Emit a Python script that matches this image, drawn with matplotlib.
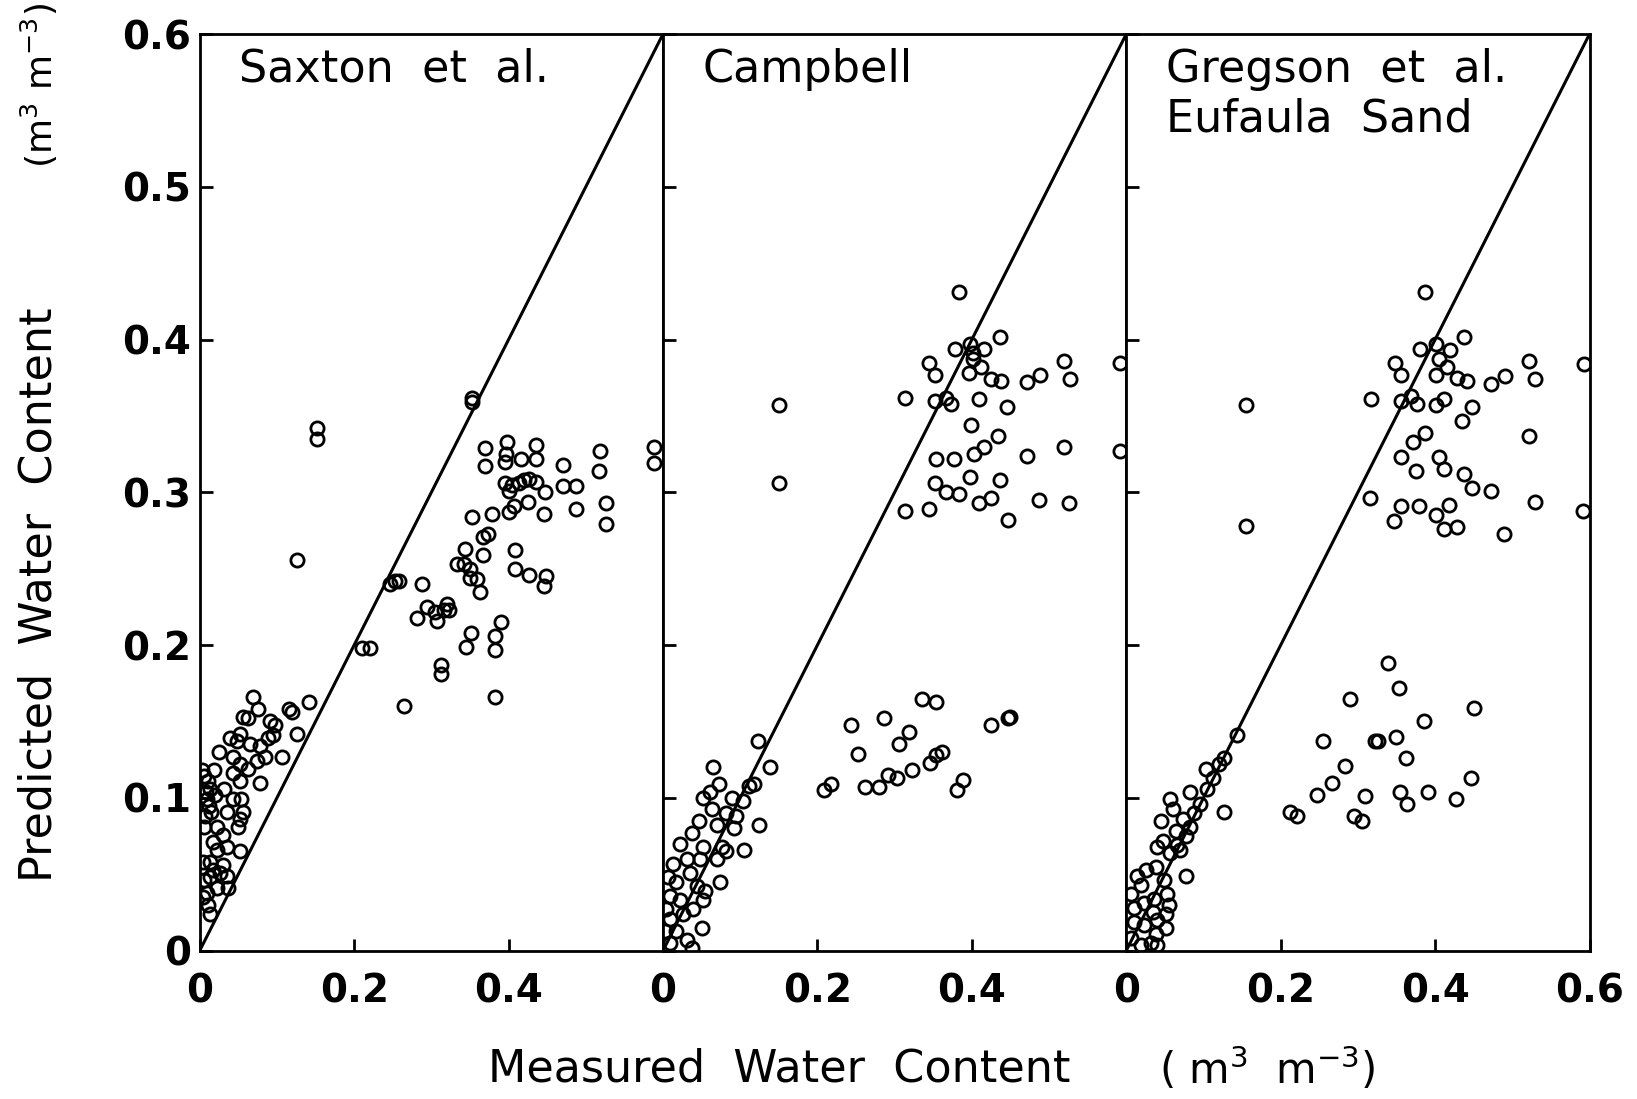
import numpy as np
import matplotlib
matplotlib.use("Agg")
import matplotlib.pyplot as plt

# Saxton et al.
sax_x = [0.353, 0.353, 0.152, 0.152, 0.126, 0.247, 0.253, 0.258, 0.210, 0.221,
         0.288, 0.281, 0.294, 0.305, 0.307, 0.316, 0.320, 0.323, 0.264, 0.312,
         0.312, 0.351, 0.345, 0.390, 0.382, 0.382, 0.382, 0.344, 0.333, 0.342,
         0.350, 0.350, 0.359, 0.363, 0.367, 0.367, 0.374, 0.353, 0.378, 0.408,
         0.408, 0.426, 0.446, 0.449, 0.400, 0.407, 0.425, 0.395, 0.400, 0.405,
         0.413, 0.420, 0.426, 0.435, 0.447, 0.446, 0.370, 0.370, 0.398, 0.397,
         0.396, 0.416, 0.436, 0.436, 0.470, 0.470, 0.487, 0.487, 0.519, 0.517,
         0.526, 0.526, 0.589, 0.589,
         0.069, 0.076, 0.056, 0.063, 0.091, 0.097, 0.095, 0.089, 0.115, 0.119,
         0.142, 0.126, 0.107, 0.025, 0.039, 0.048, 0.052, 0.065, 0.078, 0.084,
         0.074, 0.078, 0.043, 0.052, 0.063, 0.043, 0.052, 0.006, 0.011, 0.013,
         0.009, 0.015, 0.006, 0.022, 0.017, 0.043, 0.054, 0.056, 0.052, 0.050,
         0.032, 0.035, 0.030, 0.035, 0.052, 0.022, 0.013, 0.030, 0.013, 0.035,
         0.022, 0.009, 0.037, 0.011, 0.013, 0.004, 0.006, 0.004, 0.017, 0.026,
         0.003, 0.008, 0.018, 0.012, 0.020, 0.007]
sax_y = [0.362, 0.359, 0.342, 0.335, 0.256, 0.240, 0.242, 0.242, 0.198, 0.198,
         0.240, 0.218, 0.225, 0.222, 0.216, 0.223, 0.227, 0.223, 0.160, 0.187,
         0.181, 0.208, 0.199, 0.215, 0.206, 0.197, 0.166, 0.263, 0.253, 0.253,
         0.250, 0.244, 0.243, 0.235, 0.259, 0.271, 0.273, 0.284, 0.286, 0.262,
         0.250, 0.246, 0.239, 0.245, 0.287, 0.291, 0.294, 0.306, 0.301, 0.305,
         0.306, 0.308, 0.309, 0.307, 0.300, 0.286, 0.329, 0.317, 0.333, 0.325,
         0.320, 0.322, 0.331, 0.322, 0.318, 0.304, 0.304, 0.289, 0.327, 0.314,
         0.293, 0.279, 0.330, 0.319,
         0.166, 0.158, 0.153, 0.152, 0.150, 0.148, 0.141, 0.139, 0.158, 0.156,
         0.163, 0.142, 0.127, 0.130, 0.139, 0.137, 0.142, 0.135, 0.134, 0.127,
         0.124, 0.110, 0.127, 0.122, 0.119, 0.116, 0.111, 0.114, 0.111, 0.106,
         0.099, 0.091, 0.081, 0.081, 0.071, 0.099, 0.099, 0.091, 0.086, 0.081,
         0.106, 0.091, 0.076, 0.068, 0.065, 0.066, 0.058, 0.056, 0.048, 0.049,
         0.041, 0.038, 0.041, 0.030, 0.024, 0.058, 0.046, 0.035, 0.053, 0.051,
         0.118, 0.104, 0.118, 0.095, 0.102, 0.088]

# Campbell
camp_x = [0.383, 0.436, 0.378, 0.397, 0.401, 0.416, 0.344, 0.352, 0.401, 0.396,
          0.412, 0.425, 0.438, 0.471, 0.488, 0.519, 0.527, 0.592, 0.314, 0.352,
          0.366, 0.373, 0.409, 0.445, 0.399, 0.434, 0.416, 0.403, 0.354, 0.377,
          0.471, 0.519, 0.592, 0.352, 0.397, 0.436, 0.366, 0.383, 0.409, 0.425,
          0.487, 0.526, 0.314, 0.344, 0.447, 0.150, 0.150,
          0.336, 0.353, 0.244, 0.286, 0.425, 0.447, 0.449, 0.319, 0.306, 0.253,
          0.361, 0.353, 0.346, 0.388, 0.381, 0.218, 0.208, 0.261, 0.280, 0.292,
          0.303, 0.322,
          0.123, 0.139, 0.065, 0.111, 0.118, 0.072, 0.061, 0.052, 0.089, 0.104,
          0.063, 0.081, 0.094, 0.046, 0.070, 0.092, 0.124, 0.022, 0.037, 0.052,
          0.076, 0.105, 0.031, 0.048, 0.070, 0.081, 0.074, 0.013, 0.007, 0.017,
          0.035, 0.009, 0.022, 0.052, 0.050, 0.004, 0.009, 0.026, 0.039, 0.017,
          0.031, 0.009, 0.037, 0.002, 0.054, 0.044]
camp_y = [0.431, 0.402, 0.394, 0.397, 0.391, 0.394, 0.385, 0.377, 0.387, 0.378,
          0.382, 0.374, 0.373, 0.372, 0.377, 0.386, 0.374, 0.385, 0.362, 0.360,
          0.362, 0.358, 0.361, 0.356, 0.344, 0.337, 0.330, 0.325, 0.322, 0.322,
          0.324, 0.330, 0.327, 0.306, 0.310, 0.308, 0.300, 0.299, 0.293, 0.296,
          0.295, 0.293, 0.288, 0.289, 0.282, 0.357, 0.306,
          0.165, 0.163, 0.148, 0.152, 0.148, 0.152, 0.153, 0.143, 0.135, 0.129,
          0.130, 0.128, 0.123, 0.112, 0.105, 0.109, 0.105, 0.107, 0.107, 0.115,
          0.113, 0.118,
          0.137, 0.120, 0.120, 0.108, 0.109, 0.109, 0.104, 0.100, 0.100, 0.098,
          0.093, 0.090, 0.088, 0.085, 0.082, 0.080, 0.082, 0.070, 0.077, 0.068,
          0.068, 0.066, 0.060, 0.060, 0.060, 0.065, 0.045, 0.057, 0.048, 0.045,
          0.051, 0.036, 0.033, 0.033, 0.015, 0.027, 0.021, 0.024, 0.027, 0.013,
          0.007, 0.005, 0.002, 0.013, 0.039, 0.042]

# Gregson et al., Eufaula Sand
greg_x = [0.387, 0.438, 0.381, 0.401, 0.405, 0.419, 0.348, 0.356, 0.416, 0.401,
          0.428, 0.441, 0.472, 0.490, 0.522, 0.530, 0.593, 0.317, 0.356, 0.369,
          0.376, 0.401, 0.412, 0.448, 0.435, 0.522, 0.387, 0.372, 0.356, 0.375,
          0.405, 0.412, 0.438, 0.448, 0.472, 0.316, 0.529, 0.592, 0.356, 0.379,
          0.418, 0.401, 0.347, 0.411, 0.428, 0.489, 0.155, 0.155,
          0.339, 0.353, 0.290, 0.450, 0.385, 0.255, 0.322, 0.326, 0.349, 0.362,
          0.283, 0.266, 0.247, 0.309, 0.355, 0.364, 0.391, 0.446, 0.427, 0.212,
          0.221, 0.295, 0.305,
          0.143, 0.127, 0.120, 0.103, 0.112, 0.105, 0.083, 0.127, 0.057, 0.060,
          0.096, 0.088, 0.045, 0.073, 0.083, 0.077, 0.064, 0.047, 0.040, 0.066,
          0.057, 0.070, 0.077, 0.026, 0.014, 0.019, 0.049, 0.038, 0.053, 0.055,
          0.051, 0.051, 0.006, 0.010, 0.023, 0.034, 0.010, 0.023, 0.038, 0.006,
          0.019, 0.032, 0.040, 0.036, 0.040]
greg_y = [0.431, 0.402, 0.394, 0.397, 0.387, 0.393, 0.385, 0.377, 0.382, 0.377,
          0.375, 0.373, 0.371, 0.376, 0.386, 0.374, 0.384, 0.361, 0.360, 0.363,
          0.358, 0.357, 0.361, 0.356, 0.347, 0.337, 0.339, 0.333, 0.323, 0.314,
          0.323, 0.315, 0.312, 0.303, 0.301, 0.296, 0.294, 0.288, 0.291, 0.291,
          0.292, 0.285, 0.281, 0.276, 0.277, 0.273, 0.357, 0.278,
          0.188, 0.172, 0.165, 0.159, 0.150, 0.137, 0.137, 0.137, 0.140, 0.126,
          0.121, 0.110, 0.102, 0.101, 0.104, 0.096, 0.104, 0.113, 0.099, 0.091,
          0.088, 0.088, 0.085,
          0.141, 0.126, 0.122, 0.119, 0.113, 0.106, 0.104, 0.091, 0.099, 0.093,
          0.096, 0.090, 0.085, 0.086, 0.081, 0.075, 0.078, 0.072, 0.068, 0.069,
          0.064, 0.066, 0.049, 0.053, 0.049, 0.043, 0.046, 0.055, 0.037, 0.030,
          0.024, 0.015, 0.037, 0.028, 0.031, 0.025, 0.019, 0.017, 0.011, 0.008,
          0.004, 0.005, 0.004, 0.034, 0.020]

panels = [(sax_x, sax_y, "Saxton  et  al."),
          (camp_x, camp_y, "Campbell"),
          (greg_x, greg_y, "Gregson  et  al.\nEufaula  Sand")]
xtick_sets = [[0, 0.2, 0.4], [0, 0.2, 0.4], [0, 0.2, 0.4, 0.6]]
ytick_vals = [0, 0.1, 0.2, 0.3, 0.4, 0.5, 0.6]

plt.rcParams['font.family'] = ['DejaVu Sans']
fig = plt.figure(figsize=(16.37, 10.99), dpi=100)
gs = fig.add_gridspec(1, 3, left=0.122, right=0.971, top=0.969, bottom=0.135, wspace=0)

for i, (px, py, name) in enumerate(panels):
    ax = fig.add_subplot(gs[0, i])
    ax.plot([0, 0.6], [0, 0.6], color='k', lw=2.2)
    ax.plot(px, py, 'o', mfc='none', mec='k', ms=9.5, mew=2)
    ax.set_xlim(0, 0.6)
    ax.set_ylim(0, 0.6)
    for s in ax.spines.values():
        s.set_linewidth(2)
    ax.set_xticks(xtick_sets[i])
    ax.set_xticklabels([('%g' % v) for v in xtick_sets[i]], fontsize=28, fontweight='bold')
    ax.set_yticks(ytick_vals)
    if i == 0:
        ax.set_yticklabels([('%g' % v) for v in ytick_vals], fontsize=28, fontweight='bold')
    else:
        ax.set_yticklabels([])
    ax.tick_params(direction='in', length=9, width=2)
    ax.tick_params(axis='x', pad=16)
    ax.tick_params(axis='y', pad=6)
    ax.text(0.085, 0.985, name, transform=ax.transAxes, ha='left', va='top',
            fontsize=32, linespacing=1.2)

fig.text(0.476, 0.027, "Measured  Water  Content", ha='center', va='center', fontsize=32)
fig.text(0.774, 0.027, r"( m$^3$  m$^{-3}$)", ha='center', va='center', fontsize=30)
fig.text(0.024, 0.459, "Predicted  Water  Content", ha='center', va='center',
         rotation=90, fontsize=32)
fig.text(0.024, 0.922, r"(m$^3$ m$^{-3}$)", ha='center', va='center',
         rotation=90, fontsize=26)

fig.savefig("out.png", dpi=100)
